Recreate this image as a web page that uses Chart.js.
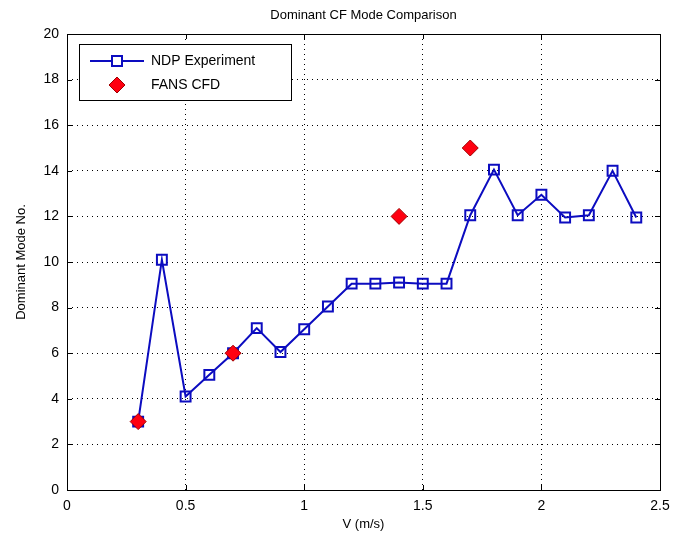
<!DOCTYPE html>
<html>
<head>
<meta charset="utf-8">
<script src="https://cdn.jsdelivr.net/npm/chart.js@4/dist/chart.umd.min.js"></script>
<style>
  html, body { margin: 0; padding: 0; background: #fff; }
  #wrap { width: 673px; height: 539px; position: relative; }
</style>
</head>
<body>
<div id="wrap"><canvas id="cfChart"></canvas></div>
<script>
// measured velocities and dominant modes
const ndpVelocity = [0.3, 0.4, 0.5, 0.6, 0.7, 0.8, 0.9, 1.0, 1.1, 1.2, 1.3,
                     1.4, 1.5, 1.6, 1.7, 1.8, 1.9, 2.0, 2.1, 2.2, 2.3, 2.4];
const ndpMode = [3, 10.1, 4.1, 5.05, 6, 7.1, 6.05, 7.05, 8.05, 9.05, 9.05,
                 9.1, 9.05, 9.05, 12.05, 14.05, 12.05, 12.95, 11.95, 12.05, 14.0, 11.95];

const fansVelocity = [0.3, 0.7, 1.4, 1.7];
const fansMode = [3, 6, 12, 15];

const xTicks = [0, 0.5, 1, 1.5, 2, 2.5];
const yTicks = [0, 2, 4, 6, 8, 10, 12, 14, 16, 18, 20];

const chartTitle = "Dominant CF Mode Comparison";
const xTitle = "V (m/s)";
const yTitle = "Dominant Mode No.";
const seriesNames = ["NDP Experiment", "FANS CFD"];

const blue = '#0c0cc0';
const red = '#ff0010';
const darkRed = '#a00000';
const font = '"Liberation Sans", Arial, sans-serif';

function toPoints(xs, ys) {
    return xs.map((x, i) => ({x: x, y: ys[i]}));
}

// frame, inside ticks, titles and legend, matlab style
const matlabFrame = {
    id: 'matlabFrame',
    afterDraw(chart) {
        const ctx = chart.ctx;
        const a = chart.chartArea;
        const xs = chart.scales.x;
        const ys = chart.scales.y;
        ctx.save();

        ctx.strokeStyle = '#000';
        ctx.lineWidth = 1;
        ctx.strokeRect(Math.round(a.left) + 0.5, Math.round(a.top) + 0.5,
                       Math.round(a.right - a.left), Math.round(a.bottom - a.top));

        const tl = 5;
        ctx.beginPath();
        xTicks.forEach(v => {
            const px = Math.round(xs.getPixelForValue(v)) + 0.5;
            ctx.moveTo(px, a.bottom); ctx.lineTo(px, a.bottom - tl);
            ctx.moveTo(px, a.top); ctx.lineTo(px, a.top + tl);
        });
        yTicks.forEach(v => {
            const py = Math.round(ys.getPixelForValue(v)) + 0.5;
            ctx.moveTo(a.left, py); ctx.lineTo(a.left + tl, py);
            ctx.moveTo(a.right, py); ctx.lineTo(a.right - tl, py);
        });
        ctx.stroke();

        const cx = (a.left + a.right) / 2;
        ctx.fillStyle = '#000';
        ctx.textAlign = 'center';
        ctx.textBaseline = 'middle';
        ctx.font = '13px ' + font;
        ctx.fillText(chartTitle, cx, 15);
        ctx.fillText(xTitle, cx, 524);

        ctx.save();
        ctx.translate(21, (a.top + a.bottom) / 2);
        ctx.rotate(-Math.PI / 2);
        ctx.fillText(yTitle, 0, 0);
        ctx.restore();

        // legend box
        ctx.fillStyle = '#fff';
        ctx.fillRect(79.5, 44.5, 212, 56);
        ctx.strokeStyle = '#000';
        ctx.strokeRect(79.5, 44.5, 212, 56);

        ctx.strokeStyle = blue;
        ctx.lineWidth = 2;
        ctx.beginPath();
        ctx.moveTo(90, 61); ctx.lineTo(144, 61);
        ctx.stroke();
        ctx.fillStyle = '#fff';
        ctx.fillRect(112, 56, 10, 10);
        ctx.strokeRect(112, 56, 10, 10);

        ctx.fillStyle = red;
        ctx.strokeStyle = darkRed;
        ctx.lineWidth = 1;
        ctx.beginPath();
        ctx.moveTo(117, 77); ctx.lineTo(125, 85); ctx.lineTo(117, 93); ctx.lineTo(109, 85);
        ctx.closePath();
        ctx.fill();
        ctx.stroke();

        ctx.fillStyle = '#000';
        ctx.textAlign = 'left';
        ctx.font = '14px ' + font;
        ctx.fillText(seriesNames[0], 151, 61);
        ctx.fillText(seriesNames[1], 151, 85);
        ctx.restore();
    }
};

const ctx = document.getElementById('cfChart').getContext('2d');
new Chart(ctx, {
    type: 'scatter',
    data: {
        datasets: [
            {
                label: seriesNames[0],
                data: toPoints(ndpVelocity, ndpMode),
                showLine: true,
                borderColor: blue,
                borderWidth: 2,
                backgroundColor: 'rgba(0,0,0,0)',
                pointStyle: 'rect',
                pointRadius: 7,
                pointBorderWidth: 2,
                pointBorderColor: blue,
                pointBackgroundColor: 'rgba(0,0,0,0)',
                order: 1
            },
            {
                label: seriesNames[1],
                data: toPoints(fansVelocity, fansMode),
                showLine: false,
                pointStyle: 'rectRot',
                pointRadius: 8,
                pointBorderWidth: 1,
                pointBorderColor: darkRed,
                pointBackgroundColor: red,
                order: 0
            }
        ]
    },
    options: {
        responsive: true,
        maintainAspectRatio: false,
        animation: false,
        events: [],
        layout: {
            padding: {left: 0, right: 13, top: 34, bottom: 0}
        },
        plugins: {
            legend: {display: false},
            title: {display: false},
            tooltip: {enabled: false}
        },
        scales: {
            x: {
                type: 'linear',
                min: 0,
                max: 2.5,
                afterFit(scale) {
                    scale.height = 49;
                    scale.paddingLeft = 0;
                    scale.paddingRight = 0;
                },
                afterBuildTicks(scale) { scale.ticks = xTicks.map(v => ({value: v})); },
                ticks: {
                    color: '#000',
                    padding: 8,
                    maxRotation: 0,
                    callback: v => String(v),
                    font: {family: font, size: 14}
                },
                grid: {
                    color: '#000',
                    lineWidth: 1,
                    drawTicks: false
                },
                border: {display: false, dash: [1, 4]}
            },
            y: {
                type: 'linear',
                min: 0,
                max: 20,
                afterFit(scale) {
                    scale.width = 67;
                    scale.paddingTop = 0;
                    scale.paddingBottom = 0;
                },
                afterBuildTicks(scale) { scale.ticks = yTicks.map(v => ({value: v})); },
                ticks: {
                    color: '#000',
                    padding: 8,
                    callback: v => String(v),
                    font: {family: font, size: 14}
                },
                grid: {
                    color: '#000',
                    lineWidth: 1,
                    drawTicks: false
                },
                border: {display: false, dash: [1, 4]}
            }
        }
    },
    plugins: [matlabFrame]
});
</script>
</body>
</html>
